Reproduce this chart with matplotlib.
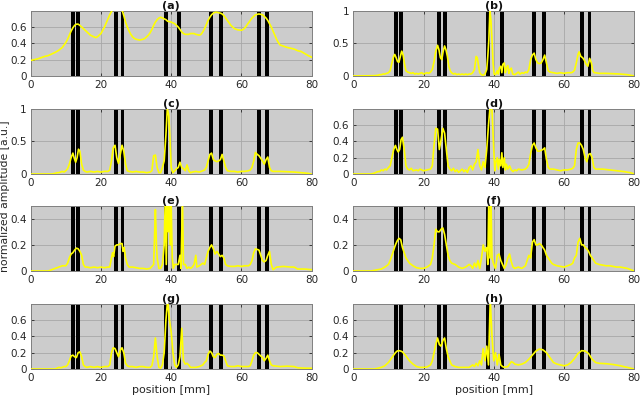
import numpy as np
import matplotlib
matplotlib.use("Agg")
import matplotlib.pyplot as plt

# %% data (position in mm, normalized amplitude)
panel_labels = ['(a)', '(b)', '(c)', '(d)', '(e)', '(f)', '(g)', '(h)']
y_tops = [0.8, 1.0, 1.0, 0.8, 0.5, 0.5, 0.8, 0.8]
y_ticks = [[0, 0.2, 0.4, 0.6], [0, 0.5, 1], [0, 0.5, 1], [0, 0.2, 0.4, 0.6],
           [0, 0.2, 0.4], [0, 0.2, 0.4], [0, 0.2, 0.4, 0.6], [0, 0.2, 0.4, 0.6]]
x_ticks = [0, 20, 40, 60, 80]

# left edges of the black bars [mm] and their width
bar_left = [11.5, 13.0, 23.8, 25.6, 37.9, 41.7, 50.9, 53.7, 64.5, 66.7]
bar_width = 1.1

curve_a = [(0, .19), (1, .20), (2, .21), (3, .225), (4, .24), (5, .25), (6, .27), (7, .29), (8, .315),
           (9, .35), (9.5, .38), (10, .41), (10.5, .45), (11, .50), (11.5, .55), (12, .59), (12.5, .62),
           (13, .635), (13.5, .635), (14, .62), (14.5, .60), (15, .58), (16, .54), (17, .50), (18, .48),
           (18.5, .47), (19, .48), (19.5, .50), (20, .52), (20.5, .56), (21, .60), (21.5, .65), (22, .70),
           (22.5, .75), (23, .79), (23.5, .82), (24, .85), (25, .88), (25.5, .86), (26, .81), (26.5, .74),
           (27, .66), (27.5, .60), (28, .55), (28.5, .51), (29, .48), (29.5, .46), (30, .45), (31, .44),
           (32, .45), (32.5, .46), (33, .48), (33.5, .50), (34, .53), (34.5, .57), (35, .62), (35.5, .66),
           (36, .69), (36.5, .71), (37, .72), (37.5, .71), (38, .70), (38.5, .69), (39, .67), (40, .66),
           (41, .64), (41.5, .62), (42, .60), (42.5, .57), (43, .54), (43.5, .52), (44, .51), (45, .51),
           (45.5, .52), (46.5, .52), (47, .51), (48, .50), (48.5, .51), (49, .54), (49.5, .58), (50, .63),
           (50.5, .68), (51, .72), (51.5, .75), (52, .77), (52.5, .78), (53, .78), (54, .77), (54.5, .76),
           (55, .74), (55.5, .71), (56, .68), (56.5, .65), (57, .62), (57.5, .60), (58, .58), (59, .565),
           (60, .56), (60.5, .57), (61, .59), (61.5, .62), (62, .65), (62.5, .68), (63, .71), (63.5, .73),
           (64, .75), (65, .76), (66, .75), (66.5, .73), (67, .71), (67.5, .68), (68, .64), (68.5, .60),
           (69, .55), (69.5, .50), (70, .45), (70.5, .41), (71, .38), (72, .365), (73, .35), (74, .34),
           (75, .33), (76, .31), (77, .30), (78, .275), (79, .25), (80, .23)]

curve_b = [(0, 0), (6, .005), (7, .01), (7.5, .02), (8, .02), (8.5, .03), (9, .03), (9.5, .04), (10, .05),
           (10.5, .08), (11, .2), (11.5, .3), (11.8, .33), (12.2, .28), (12.6, .22), (13, .21), (13.4, .3),
           (13.8, .38), (14.2, .32), (14.6, .18), (15, .08), (15.5, .06), (16, .05), (16.5, .04), (17, .05),
           (17.5, .03), (18, .04), (18.5, .03), (19, .04), (19.5, .05), (20, .03), (20.5, .04), (21, .05),
           (21.5, .04), (22, .06), (22.5, .1), (23, .22), (23.5, .38), (24, .47), (24.4, .4), (24.8, .28),
           (25.2, .25), (25.6, .38), (26, .46), (26.4, .4), (26.8, .3), (27.2, .15), (27.6, .08), (28, .05),
           (28.5, .03), (29, .04), (29.5, .02), (30, .03), (30.5, .02), (31, .03), (31.5, .02), (32, .03),
           (32.5, .02), (33, .03), (33.5, .03), (34, .05), (34.5, .1), (35, .3), (35.3, .28), (35.6, .18),
           (36, .05), (36.5, .02), (37, .01), (37.5, .03), (38, .1), (38.3, .3), (38.6, .55), (38.9, 1.0),
           (39.2, .85), (39.5, .55), (39.8, .2), (40.1, .03), (40.5, .02), (41, .08), (41.3, .03), (41.6, .12),
           (42, .15), (42.3, .05), (42.6, .18), (43, .2), (43.3, .05), (43.6, .12), (44, .16), (44.3, .04),
           (44.6, .1), (45, .12), (45.4, .03), (46, .02), (46.5, .04), (47, .06), (47.5, .03), (48, .05),
           (48.5, .04), (49, .06), (49.5, .05), (50, .1), (50.5, .25), (51, .32), (51.5, .35), (52, .25),
           (52.5, .2), (53, .19), (53.5, .2), (54, .25), (54.5, .32), (55, .2), (55.5, .08), (56, .06),
           (57, .05), (58, .04), (59, .05), (60, .04), (61, .05), (62, .05), (62.5, .06), (63, .09),
           (63.5, .2), (64, .33), (64.3, .37), (64.8, .3), (65.3, .28), (65.8, .24), (66.3, .18), (66.8, .15),
           (67.3, .27), (67.8, .2), (68.2, .08), (68.6, .05), (69, .05), (70, .04), (72, .04), (74, .035),
           (76, .03), (78, .02), (79, .01), (80, 0)]

curve_c = [(0, 0), (6, 0), (7, .01), (7.5, .02), (8, .02), (8.5, .03), (9, .04), (9.5, .03), (10, .05),
           (10.5, .08), (11, .15), (11.5, .25), (12, .32), (12.4, .24), (12.8, .18), (13.2, .25), (13.6, .38),
           (14, .35), (14.5, .15), (15, .06), (15.5, .04), (16, .03), (17, .04), (18, .03), (19, .04),
           (20, .03), (21, .04), (22, .04), (22.5, .06), (23, .2), (23.5, .4), (24, .44), (24.5, .25),
           (25, .16), (25.5, .3), (26, .44), (26.5, .35), (27, .15), (27.5, .05), (28, .04), (29, .03),
           (30, .04), (31, .03), (32, .03), (33, .02), (34, .03), (34.5, .05), (35, .28), (35.5, .29),
           (36, .1), (36.5, .02), (37, .02), (37.5, .1), (38, .2), (38.5, .6), (38.9, 1.0), (39.3, .9),
           (39.6, .6), (40, .1), (40.5, .02), (41, .05), (41.5, .08), (42, .1), (42.5, .18), (43, .1),
           (43.5, .08), (44, .05), (44.5, .14), (45, .05), (45.5, .02), (46, .03), (47, .04), (48, .03),
           (49, .05), (49.5, .06), (50, .1), (50.5, .2), (51, .3), (51.5, .32), (52, .22), (52.5, .2),
           (53, .19), (53.5, .2), (54, .22), (54.5, .3), (55, .2), (55.5, .1), (56, .05), (57, .04),
           (58, .04), (59, .03), (60, .04), (61, .04), (62, .05), (62.5, .06), (63, .1), (63.5, .2),
           (64, .33), (64.5, .3), (65, .28), (65.5, .24), (66, .2), (66.5, .15), (67, .22), (67.5, .26),
           (68, .1), (68.5, .05), (69, .04), (71, .04), (73, .035), (75, .03), (77, .02), (79, .01), (80, 0)]

curve_d = [(0, 0), (5, 0), (6, .01), (7, .03), (7.5, .03), (8, .05), (8.5, .04), (9, .06), (9.5, .05),
           (10, .08), (10.5, .1), (11, .2), (11.5, .3), (12, .35), (12.4, .3), (12.8, .27), (13.2, .3),
           (13.6, .42), (14, .45), (14.5, .3), (15, .1), (15.5, .06), (16, .05), (16.5, .07), (17, .04),
           (18, .05), (18.5, .04), (19, .06), (20, .04), (21, .05), (22, .06), (22.5, .1), (23, .35),
           (23.5, .56), (24, .55), (24.5, .3), (25, .42), (25.5, .56), (26, .5), (26.5, .3), (27, .1),
           (27.5, .06), (28, .04), (28.5, .07), (29, .03), (29.5, .05), (30, .02), (30.5, .04), (31, .06),
           (31.5, .03), (32, .05), (32.5, .02), (33, .08), (33.5, .1), (34, .05), (34.5, .12), (35, .15),
           (35.5, .3), (36, .1), (36.5, .05), (37, .15), (37.5, .08), (38, .3), (38.5, .6), (39, .85),
           (39.5, .78), (40, .3), (40.3, .04), (40.6, .15), (41, .2), (41.3, .06), (41.6, .18), (42, .1),
           (42.3, .26), (42.6, .08), (43, .2), (43.3, .05), (43.6, .12), (44, .06), (44.5, .1), (45, .05),
           (45.5, .03), (46, .05), (46.5, .04), (47, .06), (48, .05), (49, .06), (49.5, .08), (50, .12),
           (50.5, .25), (51, .35), (51.5, .38), (52, .32), (52.5, .28), (53, .28), (53.5, .29), (54, .3),
           (54.5, .32), (55, .18), (55.5, .08), (56, .06), (57, .06), (58, .05), (59, .04), (60, .05),
           (61, .05), (62, .06), (62.5, .07), (63, .1), (63.5, .3), (64, .38), (64.5, .38), (65, .35),
           (65.5, .3), (66, .2), (66.5, .15), (67, .24), (67.5, .25), (68, .2), (68.5, .08), (69, .06),
           (71, .06), (73, .05), (75, .04), (77, .03), (79, .015), (80, 0)]

curve_e = [(0, 0), (5, 0), (5.5, .005), (6, .01), (7, .02), (8, .03), (9, .04), (10, .04), (10.5, .06),
           (11, .1), (11.5, .13), (12, .14), (12.5, .16), (13, .175), (13.5, .17), (14, .15), (14.5, .12),
           (15, .05), (15.5, .03), (16, .03), (17, .025), (18, .03), (19, .025), (20, .03), (21, .025),
           (22, .03), (22.5, .03), (23, .1), (23.3, .14), (23.6, .11), (24, .19), (24.5, .2), (25, .2),
           (25.5, .21), (26, .21), (26.3, .15), (26.6, .18), (27, .1), (27.5, .05), (28, .03), (29, .03),
           (30, .025), (31, .02), (32, .02), (33, .015), (34, .02), (35, .05), (35.3, .3), (35.5, .47),
           (35.8, .2), (36, .1), (36.5, .02), (37, .02), (37.5, .05), (38, .2), (38.3, .55), (38.6, .05),
           (38.9, .55), (39.2, .3), (39.5, .55), (39.8, .2), (40, .5), (40.3, .1), (40.6, .02), (41, .05),
           (41.5, .05), (42, .05), (42.5, .12), (42.8, .02), (43.2, .55), (43.5, .05), (44, .05),
           (44.5, .02), (45, .03), (45.5, .02), (46, .03), (46.5, .05), (47, .12), (47.3, .03), (48, .04),
           (48.5, .05), (49, .06), (49.5, .05), (50, .1), (50.5, .15), (51, .18), (51.5, .2), (52, .17),
           (52.5, .13), (53, .15), (53.5, .13), (54, .11), (54.5, .12), (55, .1), (55.5, .05), (56, .04),
           (57, .035), (58, .035), (59, .04), (60, .035), (61, .04), (62, .04), (62.5, .05), (63, .08),
           (63.5, .14), (64, .17), (64.5, .165), (65, .16), (65.5, .12), (66, .08), (66.5, .07), (67, .08),
           (67.5, .12), (68, .15), (68.5, .05), (69, .01), (69.5, .02), (70, .03), (72, .035), (74, .03),
           (75, .03), (76, .015), (78, .015), (80, .01)]

curve_f = [(0, 0), (5, 0), (6, .005), (7, .01), (8, .015), (9, .03), (10, .05), (10.5, .08), (11, .12),
           (11.5, .16), (12, .2), (12.5, .23), (13, .25), (13.5, .24), (14, .18), (14.5, .14), (15, .1),
           (15.5, .08), (16, .06), (17, .04), (18, .025), (19, .02), (20, .02), (21, .03), (22, .05),
           (22.5, .1), (23, .2), (23.5, .32), (24, .3), (24.5, .3), (25, .32), (25.5, .33), (26, .28),
           (26.5, .2), (27, .12), (27.5, .08), (28, .06), (29, .05), (30, .03), (31, .02), (32, .03),
           (33, .05), (33.5, .04), (34, .02), (34.5, .06), (35, .03), (35.5, .08), (36, .02), (36.5, .1),
           (37, .2), (37.5, .15), (38, .18), (38.3, .05), (38.6, .55), (38.9, .1), (39.2, .55), (39.5, .1),
           (40, .05), (40.5, .02), (41, .12), (41.5, .13), (42, .08), (42.5, .05), (43, .02), (43.5, .05),
           (44, .1), (44.5, .13), (45, .07), (45.5, .03), (46, .02), (47, .03), (48, .02), (49, .04),
           (49.5, .08), (50, .12), (50.5, .1), (51, .22), (51.5, .24), (52, .2), (52.5, .2), (53, .21),
           (53.5, .2), (54, .18), (54.5, .16), (55, .12), (55.5, .1), (56, .08), (56.5, .06), (57, .05),
           (58, .04), (59, .035), (60, .03), (61, .04), (62, .05), (62.5, .06), (63, .1), (63.5, .12),
           (64, .22), (64.5, .25), (65, .2), (65.5, .2), (66, .18), (66.5, .17), (67, .15), (67.5, .12),
           (68, .1), (68.5, .08), (69, .06), (70, .05), (71, .045), (72, .04), (73, .04), (74, .035),
           (75, .03), (76, .03), (77, .025), (78, .02), (79, .01), (80, 0)]

curve_g = [(0, 0), (7, 0), (7.5, .01), (8, .02), (8.5, .015), (9, .02), (9.5, .03), (10, .03), (10.5, .05),
           (11, .1), (11.5, .16), (12, .17), (12.5, .15), (13, .14), (13.5, .2), (14, .21), (14.5, .15),
           (15, .05), (15.5, .03), (16, .02), (17, .03), (18, .02), (19, .03), (20, .02), (21, .03),
           (22, .03), (22.5, .05), (23, .2), (23.5, .26), (24, .25), (24.5, .2), (25, .15), (25.5, .23),
           (26, .26), (26.5, .2), (27, .07), (27.5, .04), (28, .03), (29, .03), (30, .02), (31, .03),
           (32, .03), (33, .02), (34, .02), (34.5, .04), (35, .15), (35.5, .38), (36, .15), (36.5, .02),
           (37, .01), (37.5, .05), (38, .2), (38.5, .6), (39, .85), (39.5, .6), (40, .45), (40.5, .2),
           (41, .05), (41.5, .02), (42, .05), (42.5, .15), (43, .5), (43.5, .1), (44, .06), (44.5, .07),
           (45, .05), (45.5, .02), (46, .02), (47, .02), (48, .03), (48.5, .04), (49, .05), (49.5, .08),
           (50, .1), (50.5, .18), (51, .22), (51.5, .2), (52, .15), (52.5, .14), (53, .18), (53.5, .19),
           (54, .17), (54.5, .17), (55, .16), (55.5, .1), (56, .04), (57, .03), (58, .03), (59, .04),
           (60, .03), (61, .03), (62, .03), (62.5, .04), (63, .1), (63.5, .17), (64, .2), (64.5, .2),
           (65, .18), (65.5, .16), (66, .14), (66.5, .1), (67, .13), (67.5, .17), (68, .1), (68.5, .05),
           (69, .04), (71, .03), (73, .035), (75, .03), (76, .015), (78, .01), (80, .01)]

curve_h = [(0, 0), (6, 0), (7, .01), (8, .02), (9, .04), (10, .08), (11, .14), (12, .2), (12.5, .22),
           (13, .225), (13.5, .22), (14, .21), (15, .16), (16, .1), (17, .06), (18, .03), (19, .02),
           (20, .02), (21, .025), (22, .05), (22.5, .1), (23, .2), (23.5, .3), (24, .38), (24.5, .3),
           (25, .28), (25.5, .35), (26, .38), (26.5, .25), (27, .15), (27.5, .1), (28, .05), (29, .03),
           (30, .02), (31, .02), (32, .02), (33, .02), (34, .05), (34.5, .03), (35, .07), (35.5, .04),
           (36, .1), (36.5, .05), (37, .25), (37.5, .1), (38, .28), (38.5, .05), (39, .85), (39.5, .4),
           (40, .1), (40.5, .2), (41, .05), (41.5, .18), (42, .05), (42.5, .03), (43, .02), (44, .03),
           (44.5, .06), (45, .09), (45.5, .08), (46, .06), (47, .05), (48, .06), (49, .08), (50, .12),
           (51, .17), (52, .22), (53, .245), (54, .235), (55, .2), (56, .14), (57, .08), (58, .06),
           (59, .05), (60, .04), (61, .05), (62, .08), (63, .13), (64, .19), (65, .225), (66, .22),
           (67, .19), (68, .12), (69, .08), (70, .07), (72, .065), (74, .055), (76, .04), (78, .02),
           (79, .01), (80, 0)]

curves = [curve_a, curve_b, curve_c, curve_d, curve_e, curve_f, curve_g, curve_h]

# %% figure
plt.rcParams['font.family'] = 'DejaVu Sans'
fig = plt.figure(figsize=(6.4, 3.97), dpi=100)

col_left = [0.048, 0.552]
col_width = 0.439
row_bottom = [0.8086, 0.5617, 0.3174, 0.0705]
row_height = 0.1645

for i, (lab, curve) in enumerate(zip(panel_labels, curves)):
    r, c = divmod(i, 2)
    ax = fig.add_axes([col_left[c], row_bottom[r], col_width, row_height])
    ax.set_facecolor('#cccccc')
    for b in bar_left:
        ax.axvspan(b, b + bar_width, color='black', lw=0, zorder=1)
    x, y = zip(*curve)
    ax.plot(x, y, color='#ffff00', lw=1.2, zorder=3)
    ax.set_xlim(0, 80)
    ax.set_ylim(0, y_tops[i])
    ax.set_xticks(x_ticks)
    ax.set_yticks(y_ticks[i])
    ax.set_yticklabels([('%g' % t) for t in y_ticks[i]])
    ax.grid(True, color='#a8a8a8', lw=0.6, zorder=0)
    ax.set_axisbelow(True)
    ax.tick_params(direction='in', length=2, width=0.6, labelsize=7.5, pad=3,
                   colors='#262626', top=True, right=True)
    for s in ax.spines.values():
        s.set_color('#808080')
        s.set_linewidth(0.7)
    ax.set_title(lab, fontsize=8, fontweight='bold', pad=1.5, color='#111111')
    if r == 3:
        ax.set_xlabel('position [mm]', fontsize=8, labelpad=1, color='#262626')

fig.text(0.008, 0.506, 'normalized amplitude [a.u.]', rotation=90, fontsize=7.8,
         color='#262626', ha='center', va='center')

fig.savefig('out.png', dpi=100)
